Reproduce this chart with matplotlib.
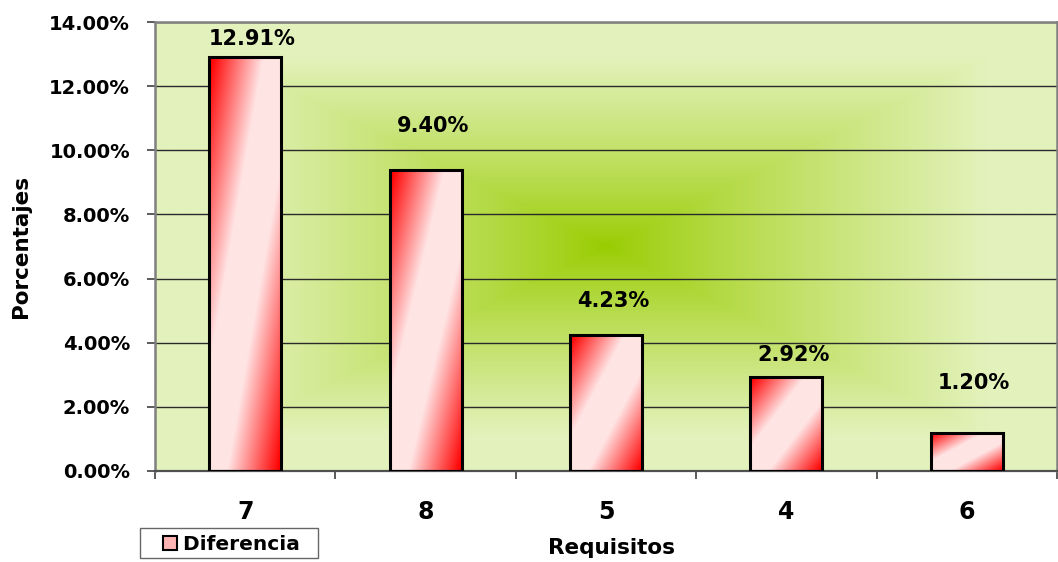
import numpy as np
import matplotlib
matplotlib.use("Agg")
import matplotlib.pyplot as plt
from matplotlib.patches import Patch, Rectangle
from matplotlib.legend_handler import HandlerPatch
from matplotlib.ticker import FuncFormatter, FixedLocator

# --- data ---------------------------------------------------------------
categories = ["7", "8", "5", "4", "6"]
diferencia = [12.91, 9.40, 4.23, 2.92, 1.20]      # percent
y_ticks = [0, 2, 4, 6, 8, 10, 12, 14]
series_name = "Diferencia"
x_title = "Requisitos"
y_title = "Porcentajes"

# vertical gap (px) between each bar top and its value label
label_gap_px = [18, 44, 34, 22, 50]

plt.rcParams["font.family"] = ["DejaVu Sans"]
plt.rcParams["font.weight"] = "bold"

W, H, DPI = 1058, 562, 100
fig = plt.figure(figsize=(W / DPI, H / DPI), dpi=DPI)
ax = fig.add_axes([155 / W, 1 - 471 / H, (1057 - 155) / W, (471 - 22) / H])

x = np.arange(len(categories))

# --- rectangular "from centre" green gradient behind the plot ------------
ny, nx = 300, 600
u = np.linspace(-1, 1, nx)[None, :]
v = np.linspace(-1, 1, ny)[:, None]
t = np.maximum(np.abs(u), np.abs(v))
frac = np.clip(1.15 * t ** 0.85, 0, 1)[..., None]
c_mid = np.array([0x99, 0xCC, 0x00]) / 255
c_edge = np.array([0xE3, 0xF2, 0xBC]) / 255
bg = c_mid * (1 - frac) + c_edge * frac
ax.imshow(bg, extent=(0, 1, 0, 1), transform=ax.transAxes, aspect="auto",
          zorder=0, interpolation="bilinear")

# grid lines
ax.set_yticks(y_ticks)
ax.yaxis.grid(True, color="#2a2a2a", linewidth=1.0, zorder=1)
ax.set_axisbelow(True)

# --- bars with diagonal red / pink gradient -----------------------------
bars = ax.bar(x, diferencia, width=0.4, facecolor="none", edgecolor="black",
              linewidth=2.2, zorder=3)

red = np.array([1.0, 0.0, 0.0])
pink = np.array([1.0, 0.895, 0.895])
gy, gx = 200, 100
bu = np.linspace(0, 1, gx)[None, :]
bv = np.linspace(0, 1, gy)[:, None]
s = 1 - np.abs(bu + bv - 1)            # 0 at the two corners, 1 on the anti-diagonal
s = np.clip(1.4 * s - 0.05, 0, 1)[..., None]
grad = red * (1 - s) + pink * s

for rect in bars:
    x0, y0 = rect.get_x(), rect.get_y()
    w, h = rect.get_width(), rect.get_height()
    ax.imshow(grad, extent=(x0, x0 + w, y0, y0 + h), aspect="auto",
              origin="upper", zorder=2, interpolation="bilinear")

ax.set_xlim(-0.5, len(categories) - 0.5)
ax.set_ylim(0, 14)

# value labels
for xi, val, gap in zip(x, diferencia, label_gap_px):
    ax.annotate(f"{val:.2f}%", xy=(xi, val), xytext=(7 * 0.72, gap * 0.72),
                textcoords="offset points", ha="center", va="center",
                fontsize=15, fontweight="bold", color="black", zorder=4)

# --- axes styling -------------------------------------------------------
ax.yaxis.set_major_formatter(FuncFormatter(lambda y, _: f"{y:.2f}%"))
ax.tick_params(axis="y", direction="out", length=6, width=1.2,
               color="#404040", pad=12, labelsize=14)

ax.xaxis.set_major_locator(FixedLocator(np.arange(-0.5, len(categories), 1.0)))
ax.xaxis.set_major_formatter(FuncFormatter(lambda v, _: ""))
ax.xaxis.set_minor_locator(FixedLocator(x))
ax.set_xticklabels(categories, minor=True)
ax.tick_params(axis="x", which="major", direction="out", length=6, width=1.2,
               color="#404040")
ax.tick_params(axis="x", which="minor", length=0, pad=21, labelsize=17)

for side in ["top", "right", "left"]:
    ax.spines[side].set_color("#808080")
    ax.spines[side].set_linewidth(1.8)
ax.spines["bottom"].set_color("#505050")
ax.spines["bottom"].set_linewidth(1.6)

ax.set_ylabel(y_title, fontsize=15.5, fontweight="bold")
ax.yaxis.set_label_coords(-0.1486, 0.5)
ax.yaxis.label.set_va("center")
ax.set_xlabel(x_title, fontsize=15.5, fontweight="bold")
ax.xaxis.set_label_coords((611 - 155) / 902, (471 - 548) / 449)
ax.xaxis.label.set_va("center")


# legend: small square key sitting at the right end of the handle box
def square_key(legend, orig_handle, xdescent, ydescent, width, height, fontsize):
    side = 14 * 72 / DPI
    return Rectangle((width - side - xdescent, (height - side) / 2 - ydescent),
                     side, side)


handle = Patch(facecolor="#FFB4B4", edgecolor="black", linewidth=1.5)
leg = fig.legend([handle], [series_name + "  "], loc="lower left",
                 bbox_to_anchor=(140 / W, 4 / H), borderaxespad=0,
                 frameon=True, fancybox=False,
                 handlelength=1.65, handleheight=1.3, handletextpad=0.3,
                 borderpad=0.2, prop={"weight": "bold", "size": 14.5},
                 handler_map={Patch: HandlerPatch(patch_func=square_key)})
leg.get_frame().set_edgecolor("#404040")
leg.get_frame().set_linewidth(1.0)

fig.savefig("out.png", dpi=DPI)
